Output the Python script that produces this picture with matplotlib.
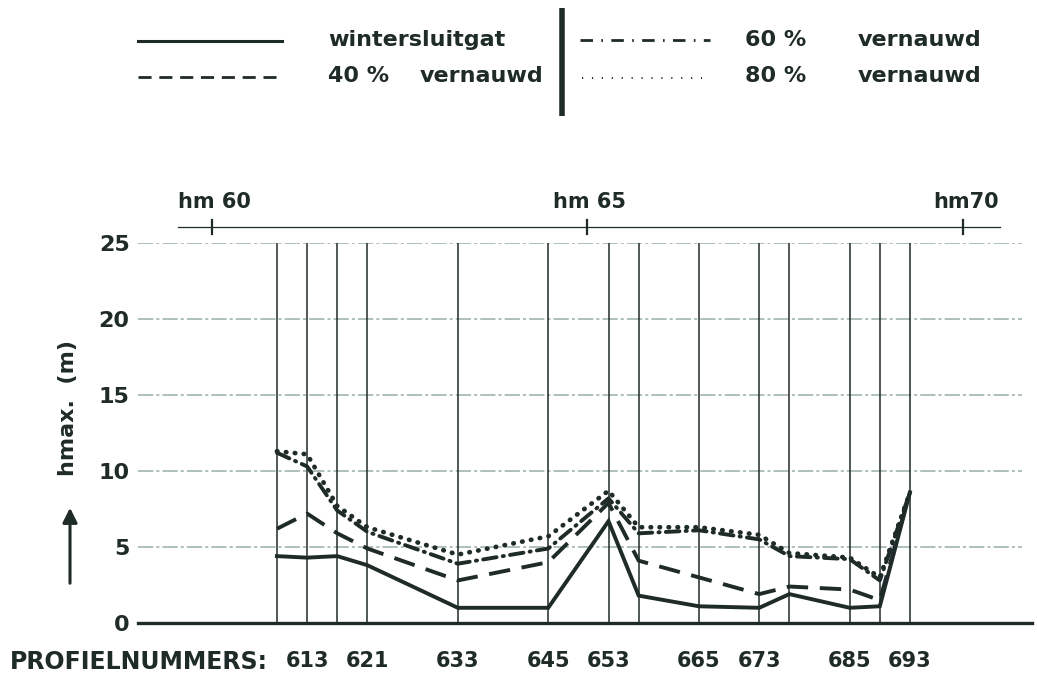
import matplotlib
matplotlib.use("Agg")
import matplotlib.pyplot as plt

# Profile numbers along the river stretch (every vertical line is a profile)
profiles = [609, 613, 617, 621, 633, 645, 653, 657, 665, 673, 677, 685, 689, 693]
labeled_profiles = [613, 621, 633, 645, 653, 665, 673, 685, 693]

# Maximum water height h_max (m) per profile for each situation
winter = [4.4, 4.3, 4.4, 3.8, 1.0, 1.0, 6.7, 1.8, 1.1, 1.0, 1.9, 1.0, 1.1, 8.6]
vern40 = [6.2, 7.2, 5.9, 4.9, 2.8, 4.0, 7.9, 4.1, 3.0, 1.9, 2.4, 2.2, 1.5, 8.6]
vern60 = [11.2, 10.3, 7.4, 6.0, 3.9, 4.9, 8.2, 5.9, 6.1, 5.5, 4.4, 4.2, 2.8, 8.6]
vern80 = [11.3, 11.1, 7.7, 6.3, 4.5, 5.7, 8.7, 6.3, 6.3, 5.8, 4.6, 4.3, 3.0, 8.6]

# Hectometre markers along the top
hm_positions = [600.4, 650.2, 700.1]
hm_labels = ["hm 60", "hm 65", "hm70"]

y_ticks = [0, 5, 10, 15, 20, 25]

INK = "#1f2b28"
GRID = "#98aea8"
FONT = ["DejaVu Sans"]

W, H = 1037, 679
fig = plt.figure(figsize=(W / 100, H / 100), dpi=100)
fig.patch.set_facecolor("white")

ax = fig.add_axes([138 / W, 1 - 623 / H, (1022 - 138) / W, (623 - 243) / H])
ax.set_xlim(590.56, 707.87)
ax.set_ylim(0, 25)
for s in ax.spines.values():
    s.set_visible(False)

# horizontal grid
for yv in y_ticks[1:]:
    ax.axhline(yv, color=GRID, lw=1.1, ls=(0, (10, 2, 2, 2)), zorder=1)
ax.plot([590.56, 709.2], [0, 0], color=INK, lw=2.4, clip_on=False, zorder=3)

# profile verticals
ax.vlines(profiles, 0, 25, color=INK, lw=1.1, zorder=2)

# data series
ax.plot(profiles, winter, color=INK, lw=2.8, solid_joinstyle="miter", zorder=5)
ax.plot(profiles, vern40, color=INK, lw=2.8, ls=(0, (5.5, 3)), zorder=5)
ax.plot(profiles, vern60, color=INK, lw=2.8, ls=(0, (3.5, 1.6, 0.3, 1.6)),
        dash_capstyle="round", zorder=5)
ax.plot(profiles, vern80, color=INK, lw=3.4, ls=(0, (0.1, 1.8)),
        dash_capstyle="round", zorder=5)

# y axis ticks
ax.set_yticks(y_ticks)
ax.set_yticklabels([str(v) for v in y_ticks], fontsize=16, fontweight="bold",
                   color=INK, family=FONT)
ax.tick_params(axis="y", length=0, pad=6)

# x axis: profile numbers
ax.set_xticks(labeled_profiles)
ax.set_xticklabels([str(p) for p in labeled_profiles], fontsize=15,
                   fontweight="bold", color=INK, family=FONT)
ax.tick_params(axis="x", length=0, pad=20)

# hectometre axis on top
y_hm = 26.05
ax.plot([595.9, 705.0], [y_hm, y_hm], color=INK, lw=0.9, clip_on=False)
for xp, lab in zip(hm_positions, hm_labels):
    ax.plot([xp, xp], [y_hm - 0.45, y_hm + 0.45], color=INK, lw=1.6, clip_on=False)
    ax.text(xp + 0.3, y_hm + 1.0, lab, ha="center", va="bottom", fontsize=15,
            fontweight="bold", color=INK, family=FONT)

# overlay in pixel coordinates for legend, axis title and arrow
lax = fig.add_axes([0, 0, 1, 1], zorder=-1)
lax.set_xlim(0, W)
lax.set_ylim(H, 0)
lax.axis("off")

fig.text(10 / W, 1 - 662 / H, "PROFIELNUMMERS:", fontsize=17, fontweight="bold",
         color=INK, va="center", ha="left", family=FONT)

fig.text(68 / W, 1 - 408 / H, "hmax.  (m)", rotation=90, fontsize=16,
         fontweight="bold", color=INK, va="center", ha="center", family=FONT)
lax.annotate("", xy=(70, 505), xytext=(70, 586),
             arrowprops=dict(arrowstyle="-|>", lw=2.2, color=INK, mutation_scale=22))

# legend
lax.plot([138, 282], [41, 41], color=INK, lw=2.2)
lax.plot([138, 282], [77, 77], color=INK, lw=2.0, ls=(0, (4.7, 2.8)))
lax.plot([580, 710], [40, 40], color=INK, lw=2.0, ls=(0, (4.5, 3, 0.6, 3)))
lax.plot([582, 702], [78, 78], color=INK, lw=1.4, ls=(0, (0.6, 4.5)))
lax.plot([562, 562], [8, 116], color=INK, lw=4.0, solid_capstyle="butt")

lt = dict(fontsize=16, fontweight="bold", color=INK, va="center", ha="left",
          family=FONT)
lax.text(328, 40, "wintersluitgat", **lt)
lax.text(328, 76, "40 %", **lt)
lax.text(420, 76, "vernauwd", **lt)
lax.text(745, 40, "60 %", **lt)
lax.text(858, 40, "vernauwd", **lt)
lax.text(745, 76, "80 %", **lt)
lax.text(858, 76, "vernauwd", **lt)

fig.savefig("out.png", dpi=100, facecolor="white")
